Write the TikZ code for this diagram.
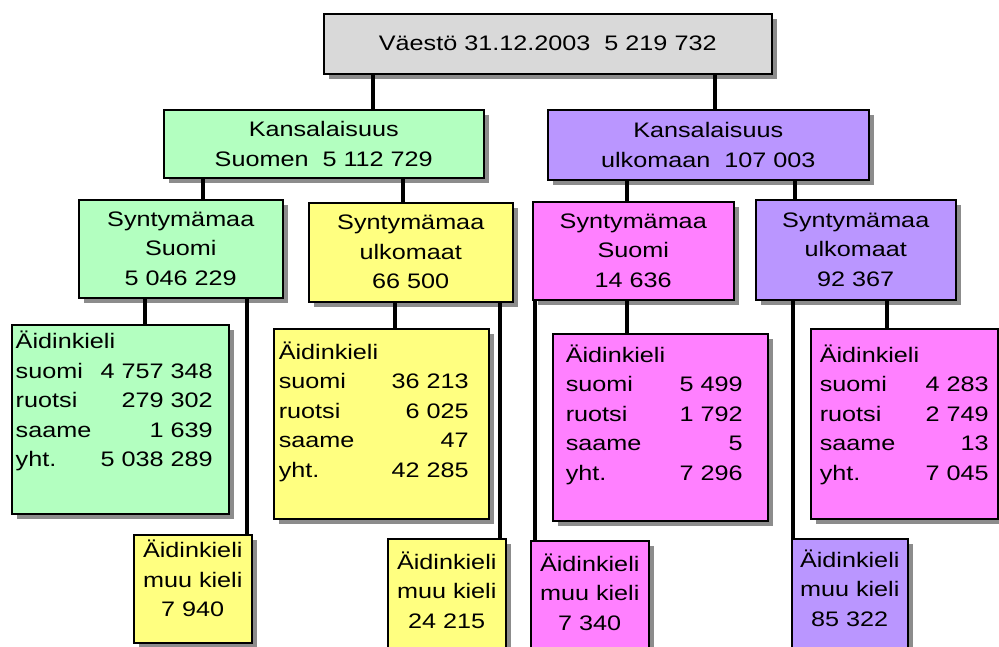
\documentclass[tikz,border=0pt]{standalone}
\usepackage{fontspec}
\setmainfont[FakeStretch=1.2]{Liberation Sans}
\usetikzlibrary{shadows}
\definecolor{cgrey}{RGB}{217,217,217}
\definecolor{cgreen}{RGB}{179,255,192}
\definecolor{cpurple}{RGB}{186,150,255}
\definecolor{cyellow}{RGB}{255,255,128}
\definecolor{cmagenta}{RGB}{255,128,255}
% centred box: width, height, text
\newcommand{\cbox}[3]{\parbox[c][#2][c]{#1}{\centering #3\par}}
% table box: width, height, top pad, left pad, inner width, text
\newcommand{\lbox}[6]{\parbox[c][#2][t]{#1}{\vspace*{#3}\hspace*{#4}\parbox[t]{#5}{#6}\par}}
% small box: width, height, top pad, text
\newcommand{\kbox}[4]{\parbox[c][#2][t]{#1}{\vspace*{#3}\centering #4\par}}
\tikzset{
  chartbox/.style={draw=black, line width=1.5pt, inner sep=0pt, anchor=north west, fill=#1,
    drop shadow={shadow xshift=5pt, shadow yshift=-5pt, fill=black, opacity=0.45}},
  conn/.style={line width=4.5pt, line cap=butt, draw=black}
}
\begin{document}
\begin{tikzpicture}[x=1pt,y=1pt, every node/.style={font=\fontsize{21}{29.5}\selectfont}]
\useasboundingbox (0,0) rectangle (999,-646);
\fill[white] (0,0) rectangle (999,-646);

\node[chartbox=cgrey] (top) at (323,-13) {\cbox{448pt}{60pt}{Väestö 31.12.2003\ \ 5 219 732}};

\node[chartbox=cgreen] (k1) at (163,-109) {\cbox{320pt}{68pt}{Kansalaisuus\\Suomen\ \ 5 112 729}};
\node[chartbox=cpurple] (k2) at (547,-109) {\cbox{321pt}{70pt}{Kansalaisuus\\ulkomaan\ \ 107 003}};

\node[chartbox=cgreen] (s1) at (78,-199) {\cbox{204pt}{98pt}{Syntymämaa\\Suomi\\5 046 229}};
\node[chartbox=cyellow] (s2) at (308,-202) {\cbox{204pt}{99pt}{Syntymämaa\\ulkomaat\\66 500}};
\node[chartbox=cmagenta] (s3) at (532,-201) {\cbox{201pt}{98pt}{Syntymämaa\\Suomi\\14 636}};
\node[chartbox=cpurple] (s4) at (755,-199) {\cbox{200pt}{100pt}{Syntymämaa\\ulkomaat\\92 367}};

\node[chartbox=cgreen] (a1) at (11,-324) {\lbox{217pt}{189pt}{6.5pt}{4pt}{197pt}{Äidinkieli\\suomi\hfill 4 757 348\\ruotsi\hfill 279 302\\saame\hfill 1 639\\yht.\hfill 5 038 289}};
\node[chartbox=cyellow] (a2) at (273,-328) {\lbox{215pt}{190pt}{13pt}{5pt}{190pt}{Äidinkieli\\suomi\hfill 36 213\\ruotsi\hfill 6 025\\saame\hfill 47\\yht.\hfill 42 285}};
\node[chartbox=cmagenta] (a3) at (552,-333) {\lbox{215pt}{187pt}{11pt}{13pt}{177pt}{Äidinkieli\\suomi\hfill 5 499\\ruotsi\hfill 1 792\\saame\hfill 5\\yht.\hfill 7 296}};
\node[chartbox=cmagenta] (a4) at (810,-328) {\lbox{187pt}{190pt}{16pt}{9pt}{169pt}{Äidinkieli\\suomi\hfill 4 283\\ruotsi\hfill 2 749\\saame\hfill 13\\yht.\hfill 7 045}};

\node[chartbox=cyellow] (m1) at (133,-534) {\kbox{118pt}{108pt}{5.4pt}{Äidinkieli\\muu kieli\\7 940}};
\node[chartbox=cyellow] (m2) at (387,-538) {\kbox{118pt}{117pt}{13pt}{Äidinkieli\\muu kieli\\24 215}};
\node[chartbox=cmagenta] (m3) at (530,-540) {\kbox{118pt}{115pt}{13pt}{Äidinkieli\\muu kieli\\7 340}};
\node[chartbox=cpurple] (m4) at (791,-538) {\kbox{116pt}{117pt}{11pt}{Äidinkieli\\muu kieli\\85 322}};

\draw[conn] (top.south -| 373,0) -- (k1.north -| 373,0);
\draw[conn] (top.south -| 715,0) -- (k2.north -| 715,0);
\draw[conn] (k1.south -| 203,0) -- (s1.north -| 203,0);
\draw[conn] (k1.south -| 403,0) -- (s2.north -| 403,0);
\draw[conn] (k2.south -| 627,0) -- (s3.north -| 627,0);
\draw[conn] (k2.south -| 795,0) -- (s4.north -| 795,0);
\draw[conn] (s1.south -| 145,0) -- (a1.north -| 145,0);
\draw[conn] (s1.south -| 247,0) -- (m1.north -| 247,0);
\draw[conn] (s2.south -| 395,0) -- (a2.north -| 395,0);
\draw[conn] (s2.south -| 500,0) -- (m2.north -| 500,0);
\draw[conn] (s3.south -| 627,0) -- (a3.north -| 627,0);
\draw[conn] (s3.south -| 535,0) -- (m3.north -| 535,0);
\draw[conn] (s4.south -| 887,0) -- (a4.north -| 887,0);
\draw[conn] (s4.south -| 793,0) -- (m4.north -| 793,0);
\end{tikzpicture}
\end{document}
